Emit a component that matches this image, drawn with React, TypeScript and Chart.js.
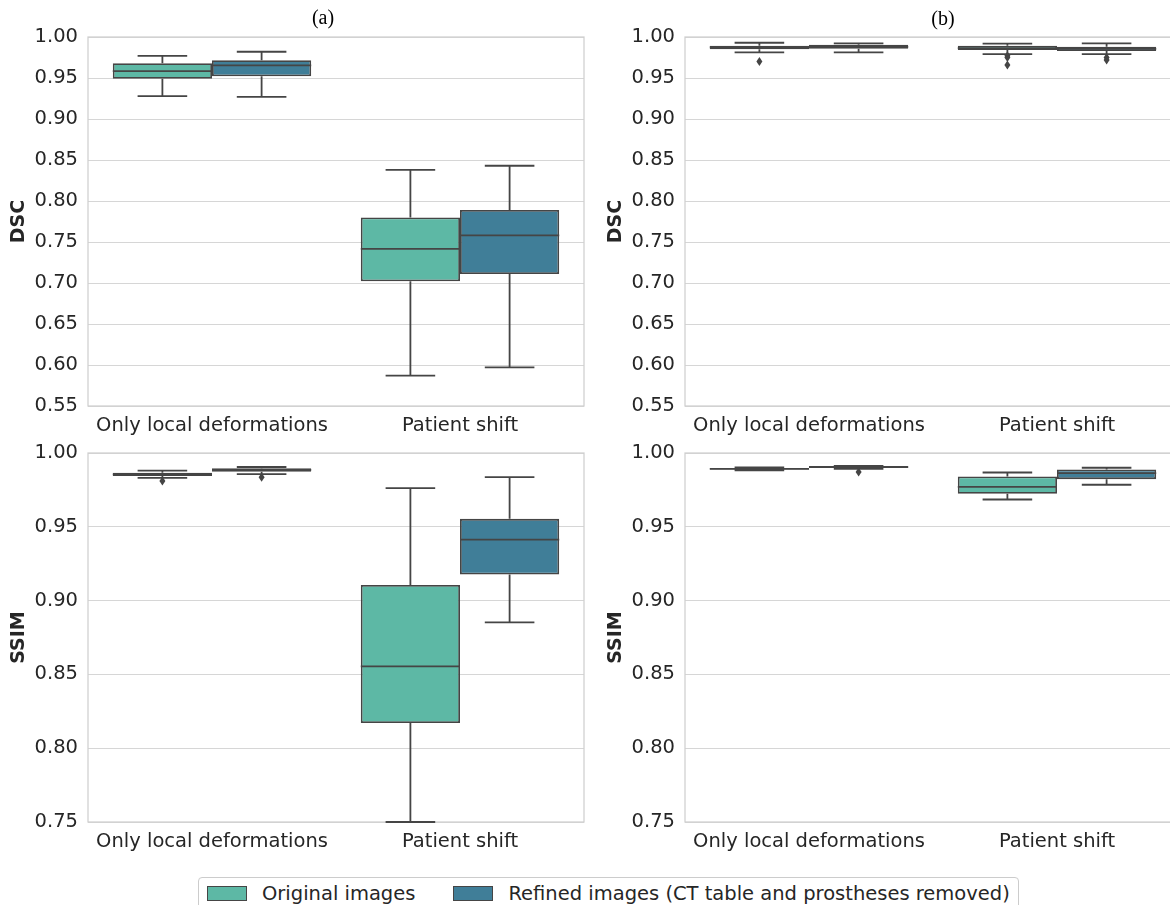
import React, { useEffect, useRef } from 'react';
import { Chart, registerables } from 'chart.js';

Chart.register(...registerables);

// ---------- data ----------
const categories = ['Only local deformations', 'Patient shift'];
const seriesNames = ['Original images', 'Refined images (CT table and prostheses removed)'];
const seriesColors = ['#5db8a5', '#407e98'];
const lineColor = '#454545';

const dscTicks = [0.55, 0.6, 0.65, 0.7, 0.75, 0.8, 0.85, 0.9, 0.95, 1.0];
const ssimTicks = [0.75, 0.8, 0.85, 0.9, 0.95, 1.0];

// panel (a), DSC
const dscAOriginal = {
  lo: [0.928, 0.587], q1: [0.949, 0.702], med: [0.9585, 0.7415], q3: [0.968, 0.78], hi: [0.977, 0.838],
  out: [[], []],
};
const dscARefined = {
  lo: [0.927, 0.597], q1: [0.952, 0.711], med: [0.9655, 0.758], q3: [0.9716, 0.789], hi: [0.982, 0.843],
  out: [[], []],
};
// panel (b), DSC
const dscBOriginal = {
  lo: [0.9813, 0.979], q1: [0.985, 0.9841], med: [0.9875, 0.9865], q3: [0.9894, 0.9894], hi: [0.993, 0.992],
  out: [[0.97], [0.977, 0.975, 0.966]],
};
const dscBRefined = {
  lo: [0.9813, 0.979], q1: [0.9857, 0.983], med: [0.988, 0.9855], q3: [0.9906, 0.988], hi: [0.9923, 0.9923],
  out: [[], [0.975, 0.972]],
};
// panel (a), SSIM
const ssimAOriginal = {
  lo: [0.9832, 0.75], q1: [0.9845, 0.8171], med: [0.9855, 0.8554], q3: [0.9866, 0.9106], hi: [0.988, 0.9762],
  out: [[0.981], []],
};
const ssimARefined = {
  lo: [0.9857, 0.8852], q1: [0.9873, 0.9176], med: [0.9885, 0.9413], q3: [0.9896, 0.9554], hi: [0.9905, 0.9837],
  out: [[0.9835], []],
};
// panel (b), SSIM
const ssimBOriginal = {
  lo: [0.9883, 0.9685], q1: [0.9888, 0.9724], med: [0.9893, 0.9771], q3: [0.9898, 0.9841], hi: [0.9903, 0.9868],
  out: [[], []],
};
const ssimBRefined = {
  lo: [0.9893, 0.9785], q1: [0.9902, 0.9823], med: [0.9905, 0.9864], q3: [0.9908, 0.9889], hi: [0.9913, 0.99],
  out: [[0.9871], []],
};

type BoxSeries = { lo: number[]; q1: number[]; med: number[]; q3: number[]; hi: number[]; out: number[][] };

const FONT = "'DejaVu Sans', 'Noto Sans', sans-serif";
const TEXT = '#262626';

function BoxPanel(props: { left: number; top: number; yLabel: string; ticks: number[]; series: BoxSeries[] }) {
  const ref = useRef<HTMLCanvasElement | null>(null);
  useEffect(() => {
    if (!ref.current) return;
    const series = props.series;
    const ticks = props.ticks;

    const framePlugin = {
      id: 'frame',
      beforeDatasetsDraw(chart: any) {
        const { ctx, chartArea } = chart;
        ctx.save();
        ctx.strokeStyle = '#cfcfcf';
        ctx.lineWidth = 1.25;
        ctx.strokeRect(chartArea.left, chartArea.top, chartArea.right - chartArea.left, chartArea.bottom - chartArea.top);
        ctx.restore();
      },
    };

    const boxPlugin = {
      id: 'boxExtras',
      afterDatasetsDraw(chart: any) {
        const { ctx, chartArea } = chart;
        const y = chart.scales.y;
        ctx.save();
        ctx.beginPath();
        ctx.rect(chartArea.left - 2, chartArea.top - 2, chartArea.right - chartArea.left + 4, chartArea.bottom - chartArea.top + 4);
        ctx.clip();
        ctx.strokeStyle = lineColor;
        ctx.fillStyle = lineColor;
        ctx.lineWidth = 1.8;
        series.forEach((s, di) => {
          const meta = chart.getDatasetMeta(di);
          meta.data.forEach((el: any, j: number) => {
            const { x, width } = el.getProps(['x', 'width'], true);
            const half = width / 2;
            const capHalf = width / 4;
            const yq1 = y.getPixelForValue(s.q1[j]);
            const yq3 = y.getPixelForValue(s.q3[j]);
            const ylo = y.getPixelForValue(s.lo[j]);
            const yhi = y.getPixelForValue(s.hi[j]);
            const ymed = y.getPixelForValue(s.med[j]);
            ctx.beginPath();
            // whiskers
            ctx.moveTo(x, yq3);
            ctx.lineTo(x, yhi);
            ctx.moveTo(x, yq1);
            ctx.lineTo(x, ylo);
            // caps
            ctx.moveTo(x - capHalf, yhi);
            ctx.lineTo(x + capHalf, yhi);
            ctx.moveTo(x - capHalf, ylo);
            ctx.lineTo(x + capHalf, ylo);
            // median
            ctx.moveTo(x - half, ymed);
            ctx.lineTo(x + half, ymed);
            ctx.stroke();
            // outliers (thin diamonds)
            s.out[j].forEach((v) => {
              const py = y.getPixelForValue(v);
              ctx.beginPath();
              ctx.moveTo(x, py - 4.5);
              ctx.lineTo(x + 3, py);
              ctx.lineTo(x, py + 4.5);
              ctx.lineTo(x - 3, py);
              ctx.closePath();
              ctx.fill();
            });
          });
        });
        ctx.restore();
      },
    };

    const chart = new Chart(ref.current, {
      type: 'bar',
      data: {
        labels: categories,
        datasets: series.map((s, i) => ({
          label: seriesNames[i],
          data: s.q1.map((v, j) => [v, s.q3[j]]),
          backgroundColor: seriesColors[i],
          borderColor: lineColor,
          borderWidth: 1.8,
          borderSkipped: false,
          categoryPercentage: 0.8,
          barPercentage: 1.0,
        })),
      } as any,
      options: {
        responsive: false,
        animation: false,
        layout: { padding: { top: 37, right: 2, left: 0, bottom: 0 } },
        plugins: { legend: { display: false }, tooltip: { enabled: false }, title: { display: false } },
        scales: {
          x: {
            type: 'category',
            grid: { display: false },
            border: { display: false },
            ticks: { color: TEXT, font: { family: FONT, size: 19.5 }, padding: 0 },
            afterFit: (s: any) => {
              s.height = 44;
            },
          },
          y: {
            type: 'linear',
            min: ticks[0],
            max: ticks[ticks.length - 1],
            afterBuildTicks: (s: any) => {
              s.ticks = ticks.map((v) => ({ value: v }));
            },
            grid: { color: '#d6d6d6', lineWidth: 1, drawTicks: false },
            border: { display: false },
            ticks: {
              color: TEXT,
              font: { family: FONT, size: 19.5 },
              padding: 10,
              callback: (v: any) => Number(v).toFixed(2),
            },
            title: {
              display: true,
              text: props.yLabel,
              color: TEXT,
              font: { family: FONT, size: 19, weight: 'bold' },
              padding: { top: 8, bottom: 0 },
            },
            afterFit: (s: any) => {
              s.width = 88;
            },
          },
        },
      } as any,
      plugins: [framePlugin, boxPlugin],
    });
    return () => chart.destroy();
  }, []);
  return (
    <canvas
      ref={ref}
      width={586}
      height={450}
      style={{ position: 'absolute', left: props.left, top: props.top, width: 586, height: 450 }}
    />
  );
}

function LegendItem(props: { color: string; text: string; gap: number }) {
  return (
    <div style={{ display: 'flex', alignItems: 'center', marginRight: props.gap }}>
      <div
        style={{
          width: 38,
          height: 13,
          background: props.color,
          border: `1px solid ${lineColor}`,
          marginRight: 15,
        }}
      />
      <span style={{ fontFamily: FONT, fontSize: 19.5, color: TEXT, whiteSpace: 'nowrap' }}>{props.text}</span>
    </div>
  );
}

export default function App() {
  return (
    <div
      style={{
        position: 'absolute',
        left: 0,
        top: 0,
        width: 1170,
        height: 905,
        overflow: 'hidden',
        background: '#ffffff',
      }}
    >
      <BoxPanel left={0} top={0} yLabel="DSC" ticks={dscTicks} series={[dscAOriginal, dscARefined]} />
      <BoxPanel left={597} top={0} yLabel="DSC" ticks={dscTicks} series={[dscBOriginal, dscBRefined]} />
      <BoxPanel left={0} top={416} yLabel="SSIM" ticks={ssimTicks} series={[ssimAOriginal, ssimARefined]} />
      <BoxPanel left={597} top={416} yLabel="SSIM" ticks={ssimTicks} series={[ssimBOriginal, ssimBRefined]} />
      <div
        style={{
          position: 'absolute',
          left: 298,
          top: 6,
          width: 50,
          textAlign: 'center',
          fontFamily: "'Liberation Serif', serif",
          fontSize: 20,
          color: '#000',
        }}
      >
        (a)
      </div>
      <div
        style={{
          position: 'absolute',
          left: 918,
          top: 7,
          width: 50,
          textAlign: 'center',
          fontFamily: "'Liberation Serif', serif",
          fontSize: 20,
          color: '#000',
        }}
      >
        (b)
      </div>
      <div
        style={{
          position: 'absolute',
          left: 198,
          top: 877,
          height: 40,
          padding: '0 8px',
          boxSizing: 'border-box',
          border: '1px solid #cccccc',
          borderRadius: 4,
          background: '#fff',
          display: 'flex',
          alignItems: 'center',
          paddingBottom: 8,
        }}
      >
        <LegendItem color={seriesColors[0]} text={seriesNames[0]} gap={38} />
        <LegendItem color={seriesColors[1]} text={seriesNames[1]} gap={0} />
      </div>
    </div>
  );
}
